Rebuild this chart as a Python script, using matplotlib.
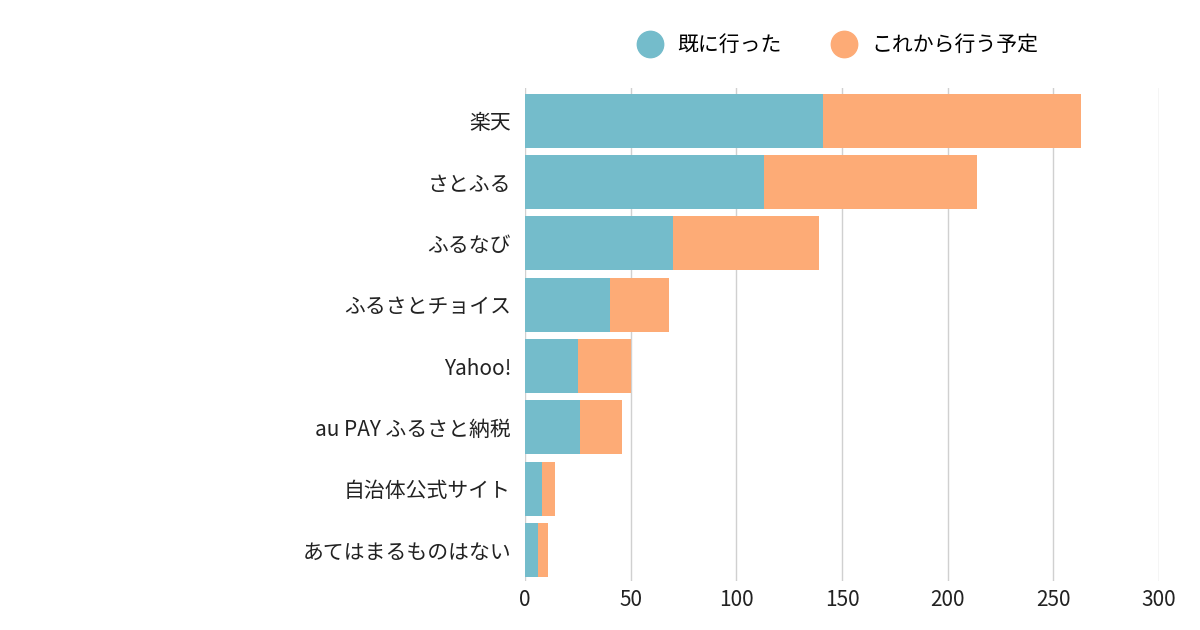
import matplotlib
matplotlib.use("Agg")
import matplotlib.pyplot as plt
from matplotlib.lines import Line2D

plt.rcParams["font.family"] = ["Noto Sans CJK JP", "DejaVu Sans"]

categories = ["楽天", "さとふる", "ふるなび", "ふるさとチョイス", "Yahoo!",
              "au PAY ふるさと納税", "自治体公式サイト", "あてはまるものはない"]
visited = [141, 113, 70, 40, 25, 26, 8, 6]
planned = [122, 101, 69, 28, 25, 20, 6, 5]
series_names = ["既に行った", "これから行う予定"]
colors = ["#74bccb", "#fdab76"]

fig = plt.figure(figsize=(12, 6.3), dpi=100)
ax = fig.add_axes([0.4375, 0.078, 0.5283, 0.782])

ypos = list(range(len(categories)))
ax.barh(ypos, visited, height=0.88, color=colors[0], zorder=2)
ax.barh(ypos, planned, left=visited, height=0.88, color=colors[1], zorder=2)

ax.set_yticks(ypos)
ax.set_yticklabels(categories, fontsize=15, color="#222222")
ax.set_ylim(len(categories) - 0.5, -0.53)
ax.set_xlim(0, 300)
ax.set_xticks([0, 50, 100, 150, 200, 250, 300])
ax.tick_params(axis="x", labelsize=15, colors="#222222", length=0, pad=6)
ax.tick_params(axis="y", length=0, pad=10)
ax.grid(axis="x", color="#d0d0d0", linewidth=1, zorder=0)
for s in ax.spines.values():
    s.set_visible(False)

handles = [Line2D([], [], marker="o", linestyle="", markersize=19, color=c) for c in colors]
fig.legend(handles, series_names, loc="center", bbox_to_anchor=(0.695, 0.928), ncol=2,
           frameon=False, fontsize=15, handletextpad=0.3, columnspacing=2.0)

fig.savefig("out.png", dpi=100)
